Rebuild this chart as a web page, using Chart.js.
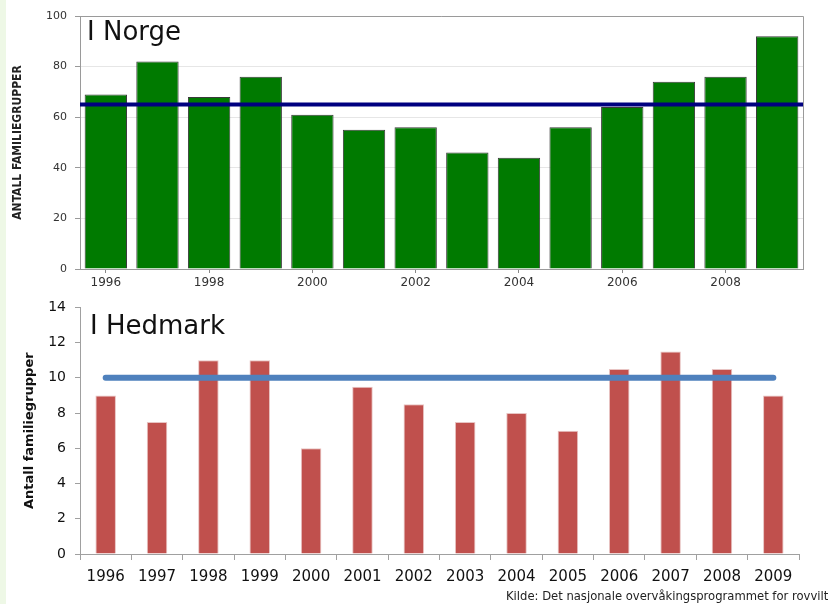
<!DOCTYPE html>
<html>
<head>
<meta charset="utf-8">
<script src="https://cdn.jsdelivr.net/npm/chart.js@4"></script>
<style>
  body { margin: 0; background: #fff; }
  #page { position: relative; width: 828px; height: 604px; overflow: hidden; background: #fff; }
  #strip { position: absolute; left: 0; top: 0; width: 6px; height: 604px; background: #eef8e6; }
  canvas { position: absolute; left: 0; }
  #cTop { top: 0; }
  #cBottom { top: 290px; }
  .label { position: absolute; font-family: "DejaVu Sans", sans-serif; font-size: 26px; line-height: 26px; color: #111; white-space: nowrap; }
  #source { position: absolute; left: 506px; top: 589px; font-family: "DejaVu Sans", sans-serif; font-size: 11.6px; color: #222; white-space: nowrap; }
</style>
</head>
<body>
<div id="page">
  <div id="strip"></div>
  <canvas id="cTop" width="828" height="290"></canvas>
  <canvas id="cBottom" width="828" height="314"></canvas>
  <div class="label" style="left:87px; top:18px;">I Norge</div>
  <div class="label" style="left:90px; top:312px;">I Hedmark</div>
  <div id="source">Kilde: Det nasjonale overvåkingsprogrammet for rovvilt</div>
</div>
<script>
// Data
const years = ['1996', '1997', '1998', '1999', '2000', '2001', '2002', '2003', '2004', '2005', '2006', '2007', '2008', '2009'];
const norge = [69, 82, 68, 76, 61, 55, 56, 46, 44, 56, 64, 74, 76, 92];
const norgeMaal = 65;
const hedmark = [9, 7.5, 11, 11, 6, 9.5, 8.5, 7.5, 8, 7, 10.5, 11.5, 10.5, 9];
const hedmarkMaal = 10;

// ramme rundt plottet (øverste graf)
const frame = {
    id: 'frame',
    afterDatasetsDraw(chart) {
        const a = chart.chartArea;
        const ctx = chart.ctx;
        ctx.save();
        ctx.strokeStyle = '#9a9a9a';
        ctx.lineWidth = 1;
        ctx.beginPath();
        ctx.moveTo(a.left, a.top + 0.5);
        ctx.lineTo(a.right + 0.5, a.top + 0.5);
        ctx.lineTo(a.right + 0.5, a.bottom);
        ctx.stroke();
        ctx.restore();
    }
};

// Graf: I Norge
new Chart(document.getElementById('cTop').getContext('2d'), {
    type: 'bar',
    data: {
        labels: years,
        datasets: [
            {
                data: norge,
                backgroundColor: '#007a00',
                borderColor: '#3a3a3a',
                borderWidth: 1,
                grouped: false,
                categoryPercentage: 1,
                barPercentage: 0.82,
                order: 1
            },
            {
                type: 'line',
                data: [{ x: 0, y: norgeMaal }, { x: 1, y: norgeMaal }],
                xAxisID: 'x2',
                borderColor: '#000080',
                borderWidth: 4,
                pointRadius: 0,
                clip: false,
                order: 0
            }
        ]
    },
    options: {
        responsive: false,
        animation: false,
        layout: { padding: { top: 16, right: 25, left: 0, bottom: 0 } },
        plugins: { legend: { display: false }, tooltip: { enabled: false } },
        scales: {
            x: {
                offset: true,
                afterFit: s => { s.height = 21; },
                border: { color: '#9a9a9a' },
                grid: {
                    offset: false,
                    drawOnChartArea: false,
                    tickLength: 4,
                    color: c => (c.index % 2 === 0 ? '#888' : 'rgba(0,0,0,0)')
                },
                ticks: {
                    autoSkip: false,
                    maxRotation: 0,
                    padding: 3,
                    color: '#333',
                    font: { family: 'DejaVu Sans', size: 12 },
                    callback: (v, i) => (i % 2 === 0 ? years[i] : '')
                }
            },
            x2: { type: 'linear', min: 0, max: 1, offset: false, display: false, grid: { offset: false } },
            y: {
                min: 0,
                max: 100,
                afterFit: s => { s.width = 80; },
                border: { color: '#9a9a9a' },
                grid: { color: '#e6e6e6', tickColor: '#999', tickLength: 5 },
                ticks: {
                    stepSize: 20,
                    padding: 8,
                    color: '#333',
                    font: { family: 'DejaVu Sans', size: 11 }
                },
                title: {
                    display: true,
                    text: 'ANTALL FAMILIEGRUPPER',
                    color: '#222',
                    padding: { top: 11, bottom: 0 },
                    font: { family: 'DejaVu Sans Condensed', weight: 'bold', size: 12 }
                }
            }
        }
    },
    plugins: [frame]
});

// Graf: I Hedmark
new Chart(document.getElementById('cBottom').getContext('2d'), {
    type: 'bar',
    data: {
        labels: years,
        datasets: [
            {
                type: 'line',
                data: years.map(() => hedmarkMaal),
                borderColor: '#4f81bd',
                borderWidth: 6,
                borderCapStyle: 'round',
                pointRadius: 0,
                order: 0
            },
            {
                data: hedmark,
                backgroundColor: '#c0504d',
                borderColor: '#e8c4c3',
                borderWidth: 1,
                categoryPercentage: 1,
                barPercentage: 0.4,
                order: 1
            }
        ]
    },
    options: {
        responsive: false,
        animation: false,
        layout: { padding: { top: 7, right: 29, left: 0, bottom: 0 } },
        plugins: { legend: { display: false }, tooltip: { enabled: false } },
        scales: {
            x: {
                offset: true,
                afterFit: s => { s.height = 50; },
                border: { color: '#a0a0a0' },
                grid: { offset: true, drawOnChartArea: false, tickLength: 6, color: '#a0a0a0' },
                ticks: {
                    autoSkip: false,
                    maxRotation: 0,
                    padding: 8,
                    color: '#111',
                    font: { family: 'DejaVu Sans', size: 15 }
                }
            },
            y: {
                min: 0,
                max: 14,
                afterFit: s => { s.width = 80; },
                border: { color: '#a0a0a0' },
                grid: { drawOnChartArea: false, tickLength: 5, color: '#a0a0a0' },
                ticks: {
                    stepSize: 2,
                    padding: 9,
                    color: '#111',
                    font: { family: 'DejaVu Sans', size: 14 }
                },
                title: {
                    display: true,
                    text: 'Antall familiegrupper',
                    color: '#111',
                    padding: { top: 22, bottom: 0 },
                    font: { family: 'DejaVu Sans', weight: 'bold', size: 13 }
                }
            }
        }
    }
});
</script>
</body>
</html>
